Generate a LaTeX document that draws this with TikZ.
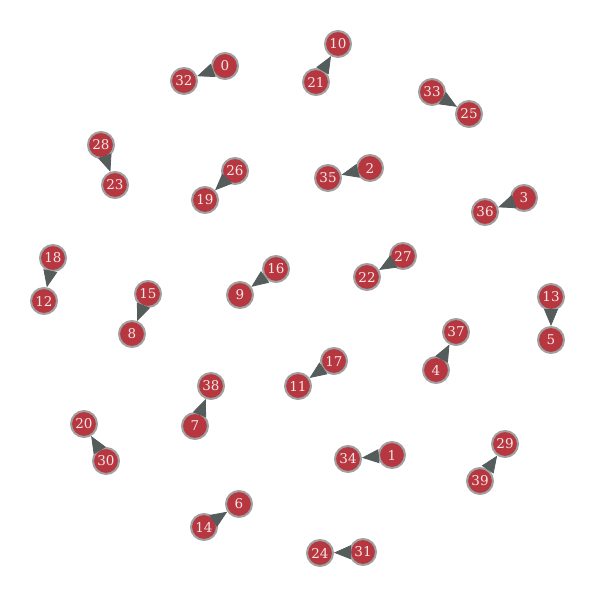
\documentclass[tikz,border=0pt]{standalone}
\usepackage{fontspec}
\setmainfont{DejaVu Serif}
\usepackage{tikz}
\usetikzlibrary{arrows.meta}
\definecolor{mred}{RGB}{183, 55, 64}
\definecolor{mrim}{RGB}{160, 160, 160}
\definecolor{mtip}{RGB}{84, 92, 92}
\definecolor{mtext}{RGB}{245, 228, 228}
\tikzset{vtx/.style = {circle, fill = mred, draw = mrim, line width = 2, inner sep = 0,
                       minimum size = 26, text = mtext, font = \fontsize{13.5}{14}\selectfont}}
\tikzset{lnk/.style = {mtip, line width = 0.8, -{Triangle[length = 17, width = 14]}}}
\begin{document}
\begin{tikzpicture}[x = 1pt, y = -1pt]
    \useasboundingbox (0, 0) rectangle (599, 600);

    \node [vtx] (n0) at (225, 66) {0};
    \node [vtx] (n32) at (184, 81) {32};
    \node [vtx] (n10) at (338, 44) {10};
    \node [vtx] (n21) at (316, 82) {21};
    \node [vtx] (n33) at (432, 92) {33};
    \node [vtx] (n25) at (469, 114) {25};
    \node [vtx] (n28) at (101, 145) {28};
    \node [vtx] (n23) at (115, 185) {23};
    \node [vtx] (n26) at (235, 171) {26};
    \node [vtx] (n19) at (205, 200) {19};
    \node [vtx] (n2) at (370, 168) {2};
    \node [vtx] (n35) at (328, 178) {35};
    \node [vtx] (n3) at (524, 198) {3};
    \node [vtx] (n36) at (485, 212) {36};
    \node [vtx] (n18) at (53, 258) {18};
    \node [vtx] (n12) at (44, 301) {12};
    \node [vtx] (n16) at (276, 269) {16};
    \node [vtx] (n9) at (240, 295) {9};
    \node [vtx] (n27) at (403, 256) {27};
    \node [vtx] (n22) at (367, 277) {22};
    \node [vtx] (n15) at (148, 294) {15};
    \node [vtx] (n8) at (132, 334) {8};
    \node [vtx] (n13) at (551, 297) {13};
    \node [vtx] (n5) at (551, 340) {5};
    \node [vtx] (n37) at (456, 332) {37};
    \node [vtx] (n4) at (436, 370) {4};
    \node [vtx] (n17) at (334, 361) {17};
    \node [vtx] (n11) at (298, 386) {11};
    \node [vtx] (n38) at (211, 386) {38};
    \node [vtx] (n7) at (195, 426) {7};
    \node [vtx] (n20) at (84, 424) {20};
    \node [vtx] (n30) at (106, 461) {30};
    \node [vtx] (n29) at (505, 444) {29};
    \node [vtx] (n39) at (480, 481) {39};
    \node [vtx] (n1) at (392, 455) {1};
    \node [vtx] (n34) at (348, 459) {34};
    \node [vtx] (n6) at (239, 504) {6};
    \node [vtx] (n14) at (204, 527) {14};
    \node [vtx] (n31) at (363, 552) {31};
    \node [vtx] (n24) at (320, 553) {24};

    \draw [lnk] (n0) -- (n32);
    \draw [lnk] (n21) -- (n10);
    \draw [lnk] (n33) -- (n25);
    \draw [lnk] (n28) -- (n23);
    \draw [lnk] (n26) -- (n19);
    \draw [lnk] (n2) -- (n35);
    \draw [lnk] (n3) -- (n36);
    \draw [lnk] (n18) -- (n12);
    \draw [lnk] (n16) -- (n9);
    \draw [lnk] (n27) -- (n22);
    \draw [lnk] (n15) -- (n8);
    \draw [lnk] (n13) -- (n5);
    \draw [lnk] (n4) -- (n37);
    \draw [lnk] (n17) -- (n11);
    \draw [lnk] (n7) -- (n38);
    \draw [lnk] (n30) -- (n20);
    \draw [lnk] (n39) -- (n29);
    \draw [lnk] (n1) -- (n34);
    \draw [lnk] (n14) -- (n6);
    \draw [lnk] (n31) -- (n24);
\end{tikzpicture}
\end{document}
